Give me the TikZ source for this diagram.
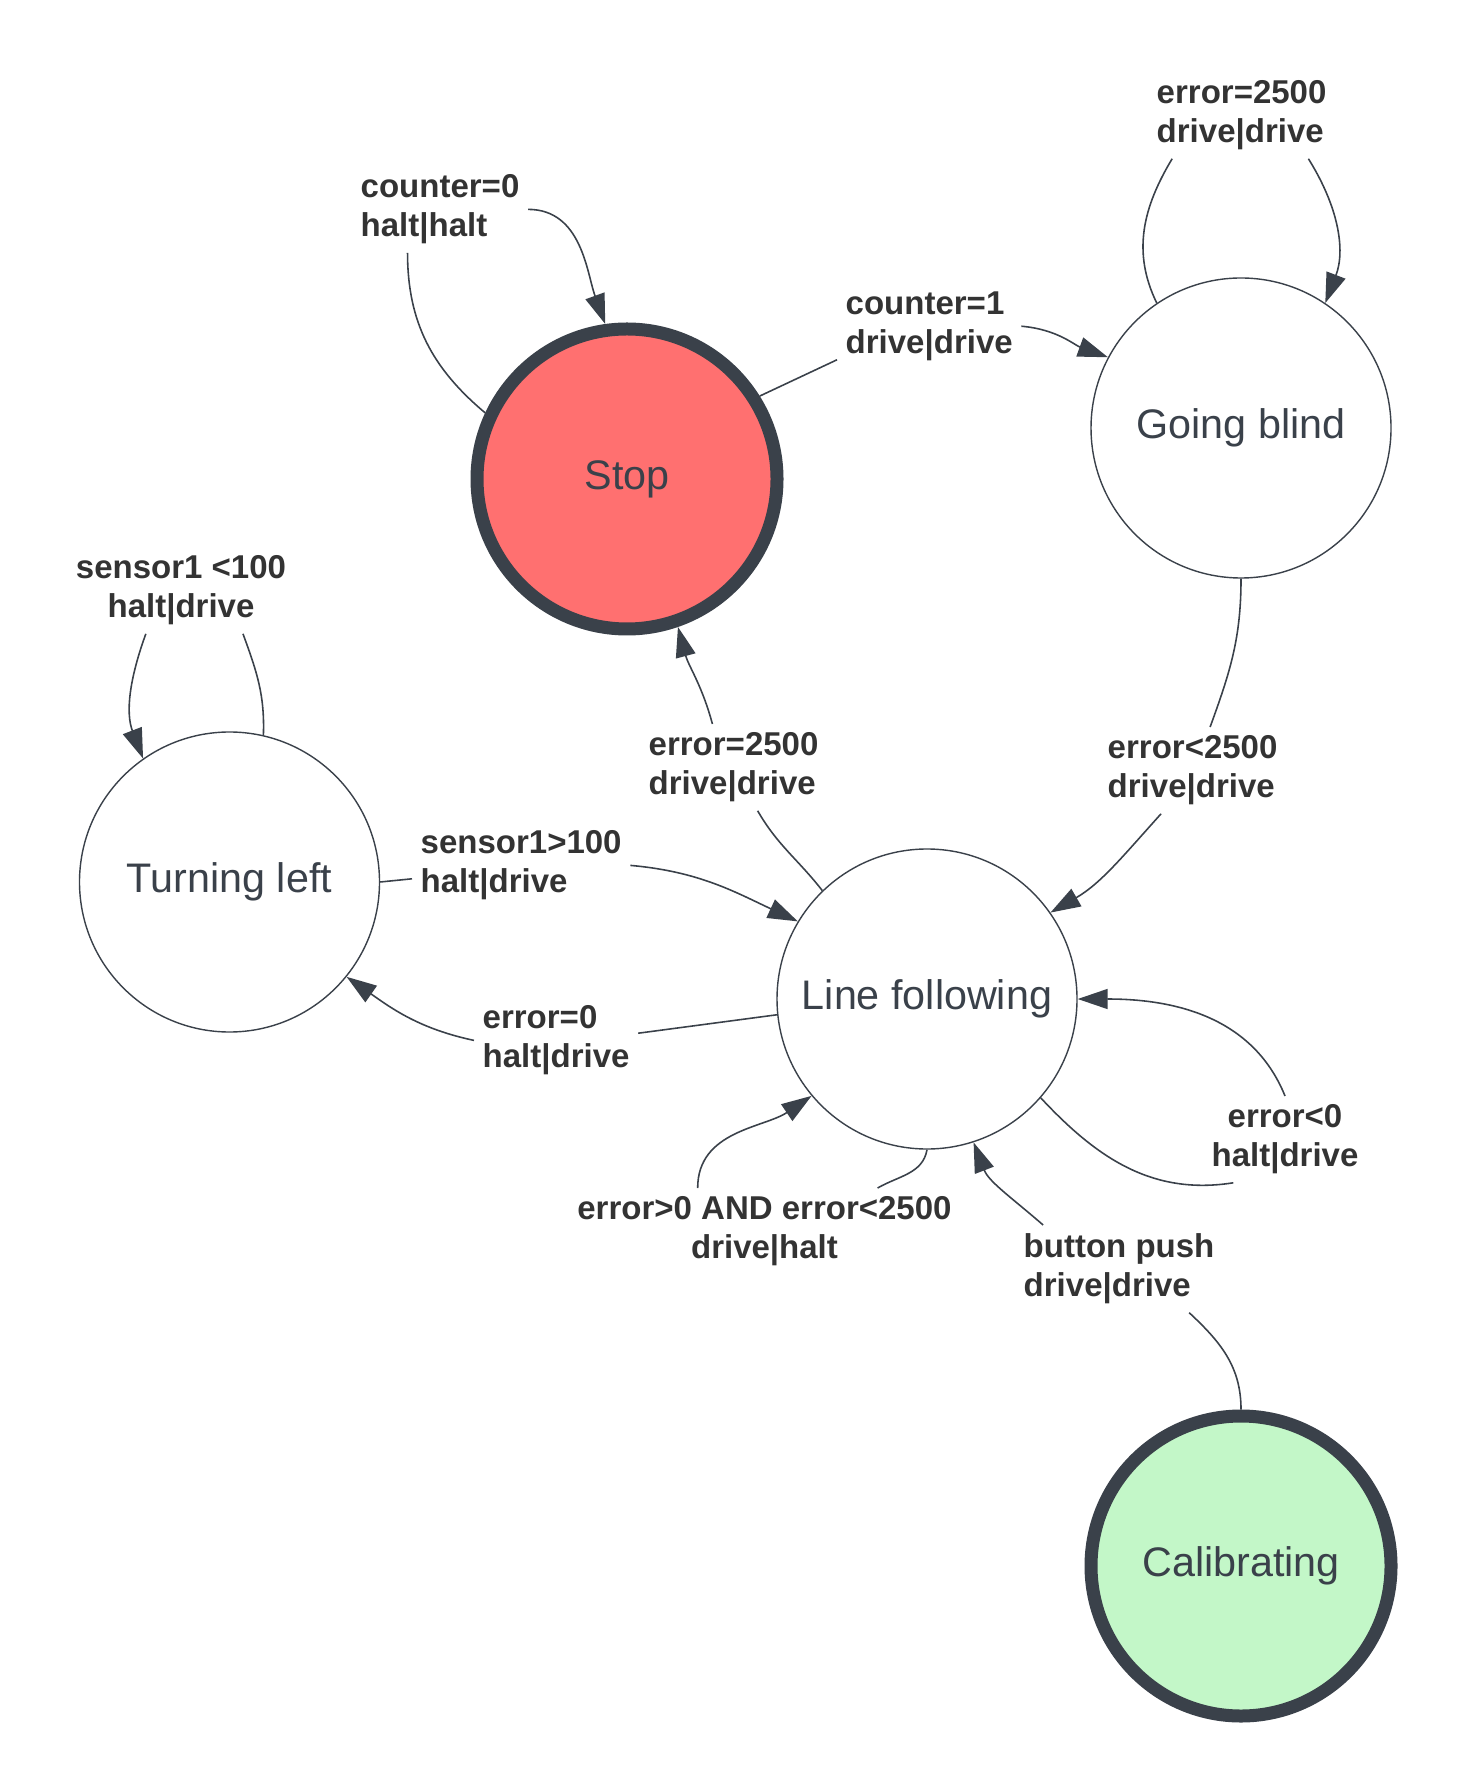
\documentclass[tikz,border=0pt]{standalone}
\usepackage{fontspec}
\setmainfont{Liberation Sans}
\usepackage{tikz}
\usetikzlibrary{arrows.meta}
\usepackage{xcolor}

\definecolor{lineclr}{HTML}{3A414A}
\definecolor{textclr}{HTML}{333333}
\definecolor{stopred}{HTML}{FF7070}
\definecolor{calgreen}{HTML}{C3F7C8}

\tikzset{
	statenode/.style={circle, draw=lineclr, line width=0.4pt, minimum size=3cm, inner sep=0pt, text=lineclr, font=\fontsize{11.75}{14}\selectfont},
	endstate/.style={statenode, line width=1.3mm},
	trans/.style={inner sep=0.8mm, text=textclr, font=\fontsize{9.39}{11.1}\selectfont\bfseries},
	conn/.style={draw=lineclr, line width=0.45pt},
	arr/.style={conn, -{Triangle[length=3mm, width=2mm]}}
}

\begin{document}
\begin{tikzpicture}
					\useasboundingbox (0,0) rectangle (14.66,-17.91);
					
					\node[endstate, fill=stopred] at (6.27,-4.79) (stop) {Stop};
					\node[statenode] at (12.41,-4.28) (blind) {Going blind};
					\node[statenode] at (2.295,-8.82) (turnleft) {Turning left};
					\node[statenode] at (9.27,-9.99) (follow) {Line following};
					\node[endstate, fill=calgreen] at (12.41,-15.66) (calib) {Calibrating};
					
					\node[trans, anchor=north west, align=left] at (3.52,-1.66) (cnt0) {counter=0\\halt|halt};
					\node[trans, anchor=north west, align=left] at (8.37,-2.83) (cnt1) {counter=1\\drive|drive};
					\node[trans, anchor=north west, align=left] at (11.48,-0.72) (blindloop) {error=2500\\drive|drive};
					\node[trans, anchor=north, align=center] at (1.81,-5.47) (sensorlow) {sensor1 <100\\halt|drive};
					\node[trans, anchor=north west, align=left] at (4.12,-8.22) (sensorhigh) {sensor1>100\\halt|drive};
					\node[trans, anchor=north west, align=left] at (6.40,-7.24) (errmax) {error=2500\\drive|drive};
					\node[trans, anchor=north west, align=left] at (10.99,-7.27) (errbelow) {error<2500\\drive|drive};
					\node[trans, anchor=north west, align=left] at (4.74,-9.97) (errzero) {error=0\\halt|drive};
					\node[trans, anchor=north, align=center] at (12.85,-10.96) (errneg) {error<0\\halt|drive};
					\node[trans, anchor=north, align=center] at (7.645,-11.88) (errmid) {error>0 AND error<2500\\drive|halt};
					\node[trans, anchor=north west, align=left] at (10.15,-12.25) (button) {button push\\drive|drive};
					
					% stop loop
					\draw
					(stop.155) edge[conn, out=140, in=-90] ([xshift=-3.25mm]cnt0.south)
					(cnt0.east) edge[arr, out=0, in=110] (stop.98);
					
					% stop to going blind
					\draw
					(stop.32) edge[conn] (cnt1.-160)
					(cnt1.east) edge[arr, out=-5, in=160] (blind.152);
					
					% going blind loop
					\draw
					(blind.124) edge[conn, out=116, in=-121] (blindloop.-148)
					(blindloop.-33) edge[arr, out=-58, in=69] (blind.56);
					
					% going blind to line following
					\draw
					(blind.south) edge[conn, out=-90, in=70] (errbelow.68)
					(errbelow.-126) edge[arr, out=-132, in=30] (follow.35);
					
					% line following to stop
					\draw
					(follow.134) edge[conn, out=128, in=-60] (errmax.-61)
					(errmax.116) edge[arr, out=105, in=-75] (stop.-71);
					
					% turning left and line following
					\draw
					(turnleft.0) edge[conn] (sensorhigh.-173)
					(sensorhigh.east) edge[arr, out=-5, in=155] (follow.149);
					\draw
					(follow.186) edge[conn] (errzero.5)
					(errzero.west) edge[arr, out=168, in=-35] (turnleft.-39);
					
					% turning left loop
					\draw
					(turnleft.77) edge[conn, out=88, in=-70] (sensorlow.-35)
					(sensorlow.-129) edge[arr, out=-110, in=111] (turnleft.125);
					
					% line following loops
					\draw
					(follow.-41) edge[conn, out=-47, in=189] (errneg.-140)
					(errneg.north) edge[arr, out=112, in=0] (follow.east);
					\draw
					(follow.south) edge[conn, out=-100, in=30] (errmid.21)
					(errmid.147) edge[arr, out=90, in=-146] (follow.-140);
					
					% calibrating to line following
					\draw
					(calib.north) edge[conn, out=90, in=-43] (button.-32)
					(button.150) edge[arr, out=139, in=-69] (follow.-72);
				\end{tikzpicture}
\end{document}
